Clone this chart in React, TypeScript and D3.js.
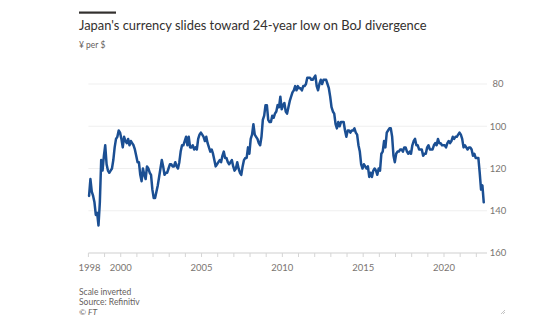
import React from "react";
import * as d3 from "d3";

const title = "Japan's currency slides toward 24-year low on BoJ divergence";
const subtitle = "¥ per $";
const footnotes = ["Scale inverted", "Source: Refinitiv", "© FT"];

const startYear = 1998;
// Monthly USD/JPY values (¥ per $), Jan 1998 onward
const yenPerDollar: number[] = [
  // 1998
  133, 125, 131, 133, 136, 142, 141, 147, 136, 116, 121, 114,
  // 1999
  109, 118, 121, 122, 121, 120, 116, 110, 106, 105, 102, 103,
  // 2000
  106, 110, 105, 107, 108, 106, 109, 107, 108, 109, 111, 114,
  // 2001
  117, 117, 123, 126, 120, 123, 125, 119, 120, 122, 123, 130,
  // 2002
  134, 134, 131, 128, 124, 120, 116, 119, 123, 122, 122, 120,
  // 2003
  118, 118, 119, 119, 117, 119, 120, 117, 112, 109, 109, 107,
  // 2004
  105, 109, 105, 110, 110, 109, 111, 110, 111, 106, 104, 103,
  // 2005
  104, 105, 107, 105, 108, 110, 112, 111, 113, 116, 119, 118,
  // 2006
  117, 116, 117, 114, 112, 115, 115, 117, 118, 117, 116, 119,
  // 2007
  121, 120, 117, 120, 122, 123, 119, 116, 115, 115, 110, 113,
  // 2008
  106, 104, 99, 104, 105, 106, 108, 109, 105, 97, 95, 90,
  // 2009
  90, 97, 98, 98, 95, 96, 94, 93, 90, 91, 86, 92,
  // 2010
  90, 89, 93, 94, 91, 88, 86, 84, 83, 81, 83, 81,
  // 2011
  82, 82, 83, 81, 81, 80, 77, 77, 77, 78, 78, 77,
  // 2012
  76, 81, 83, 80, 78, 80, 78, 78, 78, 80, 82, 86,
  // 2013
  91, 93, 94, 99, 101, 98, 100, 98, 98, 98, 102, 105,
  // 2014
  102, 102, 103, 102, 102, 101, 103, 104, 109, 112, 118, 120,
  // 2015
  118, 119, 120, 119, 124, 122, 124, 121, 120, 121, 123, 120,
  // 2016
  121, 113, 112, 107, 110, 103, 102, 101, 101, 105, 114, 117,
  // 2017
  113, 112, 112, 111, 111, 112, 110, 110, 112, 113, 112, 113,
  // 2018
  109, 107, 106, 109, 109, 111, 111, 111, 114, 113, 113, 110,
  // 2019
  109, 111, 111, 111, 109, 108, 109, 106, 108, 108, 109, 109,
  // 2020
  109, 110, 108, 107, 108, 107, 105, 106, 105, 105, 104, 103,
  // 2021
  104, 106, 110, 109, 110, 111, 110, 110, 111, 114, 113, 115,
  // 2022
  115, 115, 122, 130, 128, 136,
];

const yTicks = [80, 100, 120, 140, 160];
const xLabelYears = [1998, 2000, 2005, 2010, 2015, 2020];
const xTickYears = d3.range(1998, 2023);

const W = 540;
const H = 328;

export default function App() {
  const x = d3.scaleLinear().domain([1998, 2022.66]).range([88.4, 487]);
  const y = d3.scaleLinear().domain([80, 160]).range([84, 253]);

  const points = yenPerDollar.map((v, i) => ({
    t: startYear + (i + 0.5) / 12,
    v,
  }));
  const line = d3
    .line<{ t: number; v: number }>()
    .x((d) => x(d.t))
    .y((d) => y(d.v));

  const font = "Lato, 'Open Sans', sans-serif";
  const [x0, x1] = x.range();

  return (
    <svg
      width={W}
      height={H}
      style={{ position: "absolute", left: 0, top: 0, background: "#fff" }}
      fontFamily={font}
    >
      <rect x={0} y={0} width={W} height={H} fill="#fff" />
      <rect x={79} y={11.5} width={37} height={2.2} fill="#33302e" />
      <text x={79} y={30} fontSize={12.9} fill="#33302e">
        {title}
      </text>
      <text x={79} y={48} fontSize={8.5} fill="#66605c">
        {subtitle}
      </text>

      {yTicks.map((t) => (
        <g key={t}>
          {t !== 160 && (
            <line x1={x0} x2={x1} y1={y(t)} y2={y(t)} stroke="#efefef" strokeWidth={1} />
          )}
          <text
            x={498}
            y={y(t) + 3.3}
            fontSize={9.5}
            fill="#7a7571"
            textAnchor="middle"
          >
            {t}
          </text>
        </g>
      ))}

      <line x1={x0} x2={x1} y1={y(160)} y2={y(160)} stroke="#cfcfcf" strokeWidth={1} />
      {xTickYears.map((yr) => (
        <line
          key={yr}
          x1={x(yr)}
          x2={x(yr)}
          y1={y(160)}
          y2={y(160) + 4}
          stroke="#d5d5d5"
          strokeWidth={1}
        />
      ))}
      {xLabelYears.map((yr) => (
        <text
          key={yr}
          x={x(yr) + (yr === 1998 ? 1 : 0)}
          y={271}
          fontSize={9.5}
          fill="#7a7571"
          textAnchor="middle"
        >
          {yr}
        </text>
      ))}

      <path
        d={line(points) || ""}
        fill="none"
        stroke="#1b4f93"
        strokeWidth={2.5}
        strokeLinejoin="round"
        strokeLinecap="round"
      />

      {footnotes.map((f, i) => (
        <text
          key={i}
          x={79}
          y={294.5 + i * 10.3}
          fontSize={8.5}
          fill="#66605c"
          fontStyle={i === 2 ? "italic" : "normal"}
        >
          {f}
        </text>
      ))}

      <g stroke="#b5b5b5" strokeWidth={0.8}>
        <line x1={501} y1={314} x2={505} y2={310} />
        <line x1={503} y1={314} x2={505} y2={312} />
      </g>
    </svg>
  );
}
